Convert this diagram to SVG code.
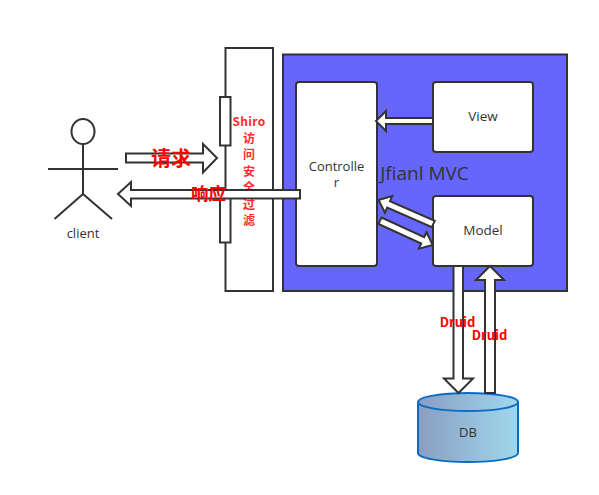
<svg xmlns="http://www.w3.org/2000/svg" width="599" height="495" viewBox="0 0 599 495">
<style>
.ln{fill:#fff;stroke:#333;stroke-width:2}
.ar{fill:#fff;stroke:#333;stroke-width:2;stroke-linejoin:miter}
text{font-family:"Open Sans","Noto Sans","Noto Sans CJK SC",sans-serif;fill:#333;text-anchor:middle}
.red{fill:#f00;font-weight:700;font-family:"Noto Sans CJK SC","Noto Sans",sans-serif}
.sh{fill:#ff2a2a;font-size:12px}
.sm{font-size:13px}
</style>
<defs>
<linearGradient id="dbg" x1="0" x2="1" y1="0" y2="0"><stop offset="0" stop-color="#8a9dc2"/><stop offset="1" stop-color="#9fd8ec"/></linearGradient>
</defs>
<rect width="599" height="495" fill="#fff"/>
<g id="client" fill="none" stroke="#333" stroke-width="2">
<ellipse cx="83" cy="131.500" rx="11.500" ry="12.500" fill="#fff"/>
<path d="M83 144V194M48 169H118M83 194L54.500 219M83 194L112 219"/>
<text x="83" y="238" class="sm" stroke="none">client</text>
</g>
<g id="shiro">
<rect class="ln" x="225.500" y="48" width="47.500" height="243"/>
<rect class="ln" x="220" y="97" width="10.500" height="48.500"/>
<rect class="ln" x="220" y="194" width="10.500" height="48.500"/>
<text class="red sh" x="249" y="126" letter-spacing="0.300">Shiro</text>
<text class="red sh" x="249" y="142.500">访</text>
<text class="red sh" x="249" y="159">问</text>
<text class="red sh" x="249" y="175.500">安</text>
<text class="red sh" x="249" y="192">全</text>
<text class="red sh" x="249" y="208.500">过</text>
<text class="red sh" x="249" y="225">滤</text>
</g>
<g id="mvc">
<rect x="283" y="54.500" width="284" height="236.500" fill="#6666ff" stroke="#333" stroke-width="2"/>
<text x="424.500" y="180" font-size="19">Jfianl MVC</text>
</g>
<g id="controller">
<rect class="ln" x="296" y="82" width="81" height="184" rx="3"/>
<text class="sm" x="336.500" y="171">Controlle<tspan x="336.500" dy="16">r</tspan></text>
</g>
<g id="view">
<rect class="ln" x="433" y="82" width="100" height="70" rx="3"/>
<text font-size="13.500" x="483" y="121">View</text>
</g>
<g id="model">
<rect class="ln" x="433" y="196" width="100" height="70" rx="3"/>
<text font-size="13.500" x="483" y="235">Model</text>
</g>
<g id="db">
<path d="M418 402V453C418 458 440 462 468 462S518 458 518 453V402" fill="url(#dbg)" stroke="#0b6cc4" stroke-width="2"/>
<ellipse cx="468" cy="402" rx="50" ry="9" fill="url(#dbg)" stroke="#0b6cc4" stroke-width="2"/>
<text class="sm" x="468" y="437">DB</text>
</g>
<g id="connectors">
<polygon class="ar" points="126,153.500 203,153.500 203,144 217,158 203,172.500 203,162.500 126,162.500"/>
<polygon class="ar" points="300,190 131,190 131,182 118,194 131,206 131,198.500 300,198.500"/>
<polygon class="ar" points="433,118 386,118 386,111 376,121 386,131 386,124 433,124"/>
<polygon class="ar" points="434.700,220.800 431.900,227.200 387.200,207.600 385,212.650 378.500,200 392.200,196.150 390,201.200"/>
<polygon class="ar" points="381.500,217.500 424.200,237.200 426.500,232.200 432.700,245 418.900,248.600 421.200,243.600 378.500,223.900"/>
<polygon class="ar" points="453.500,266 463,266 463,378.500 473,378.500 458.500,393 444,378.500 453.500,378.500"/>
<polygon class="ar" points="485,393 495,393 495,280 504,280 490,266 476,280 485,280"/>
</g>
<g id="labels">
<text class="red" font-size="20" x="171" y="165.500">请求</text>
<text class="red" font-size="17.500" x="208.500" y="200">响应</text>
<text class="red" font-size="13" x="457.500" y="327">Druid</text>
<text class="red" font-size="13" x="489.500" y="340">Druid</text>
</g>
</svg>
